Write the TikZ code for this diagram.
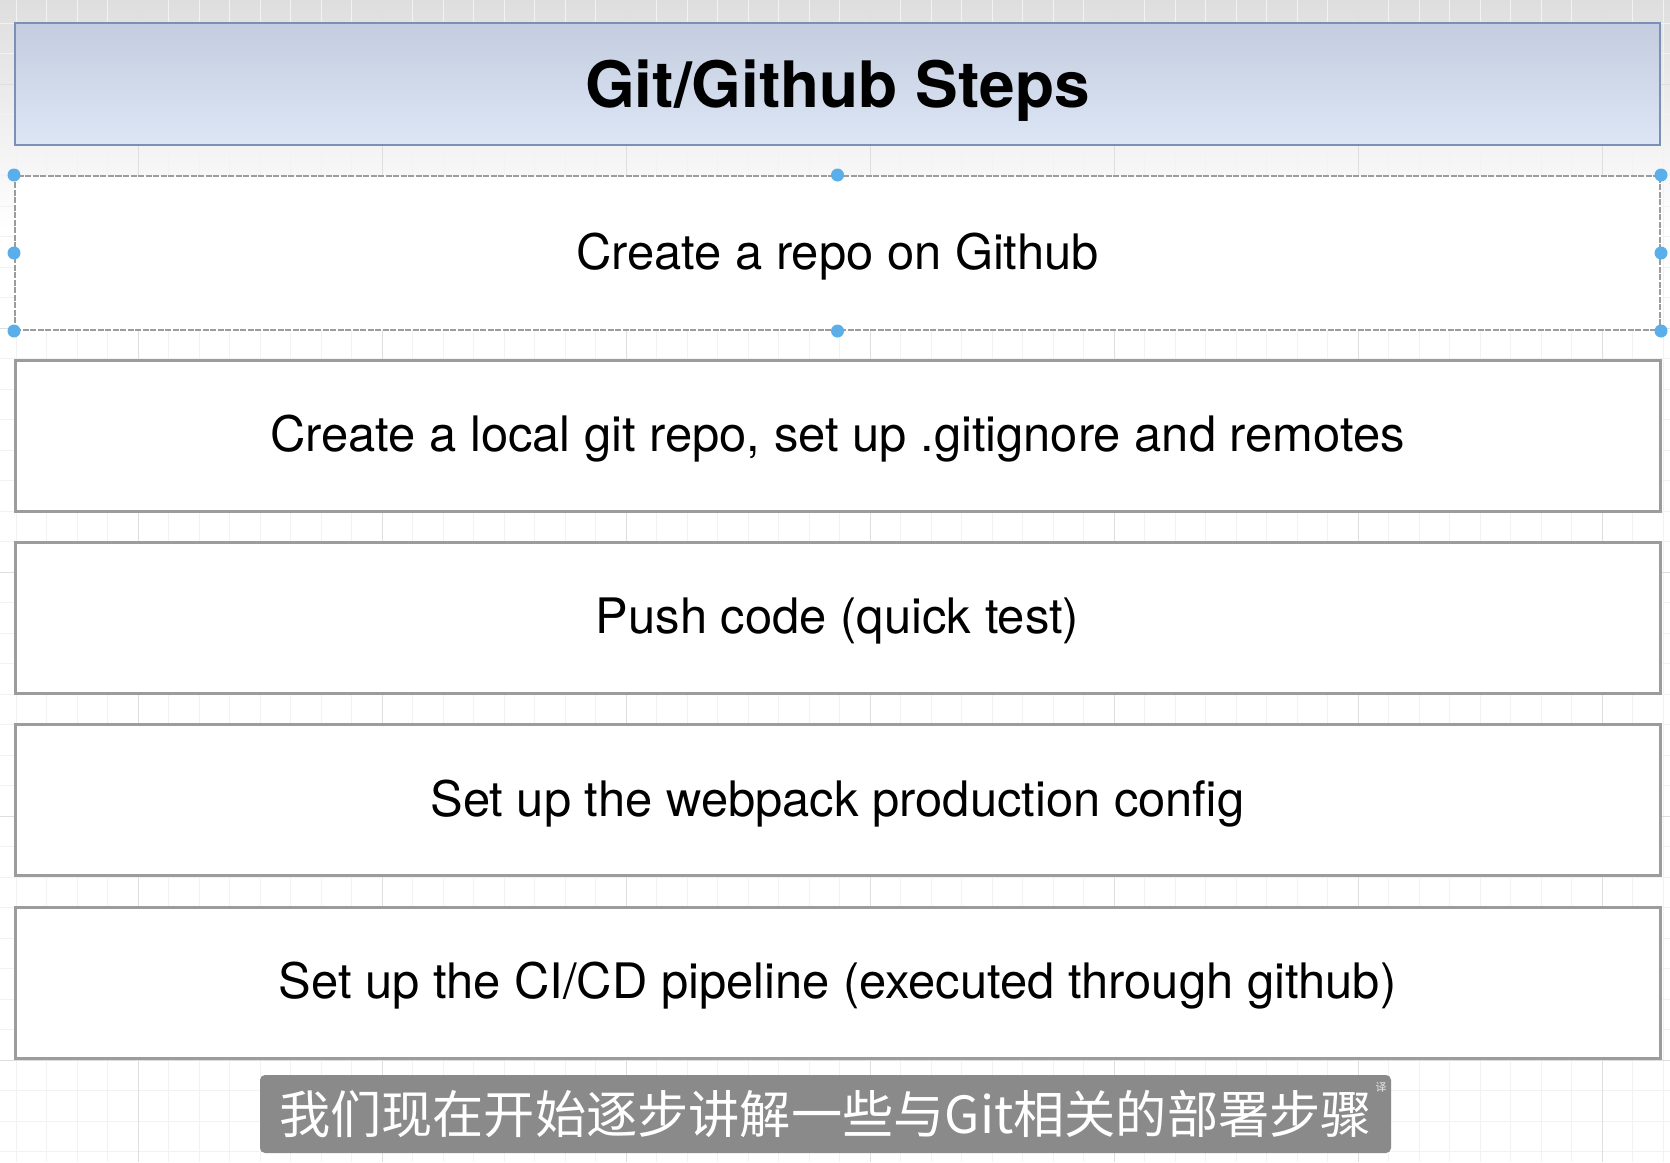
\documentclass[tikz,border=0pt]{standalone}
\usepackage{fontspec}
\setmainfont{TeX Gyre Heros}
\newfontfamily\cjk{Noto Sans CJK SC}
\definecolor{bgtop}{HTML}{DEDEDE}
\definecolor{gridc}{HTML}{F2F2F2}
\definecolor{gridmaj}{HTML}{DEDEDE}
\definecolor{titletop}{HTML}{C4CDDF}
\definecolor{titlebot}{HTML}{DCE6F5}
\definecolor{titleline}{HTML}{7C90B6}
\definecolor{boxline}{HTML}{9C9C9C}
\definecolor{handle}{HTML}{5AAFEA}
\definecolor{subfill}{HTML}{8A8A8A}
\tikzset{
  gridminor/.style={draw=gridc, line width=0.8pt},
  gridmajor/.style={draw=gridmaj, line width=1pt},
  boxtext/.style={font=\fontsize{48.9}{58}\selectfont, text=black, text height=35pt, text depth=3pt},
  stepbox/.style={boxtext, draw=boxline, line width=3pt, fill=white, minimum width=1645pt, minimum height=151pt, inner sep=0pt},
  selbox/.style={boxtext, draw=boxline, line width=2pt, dashed, dash pattern=on 6pt off 1.5pt, fill=white, minimum width=1645pt, minimum height=154pt, inner sep=0pt},
  grip/.style={circle, fill=handle, inner sep=0pt, minimum size=13pt},
  titlebox/.style={draw=titleline, line width=2.5pt, top color=titletop, bottom color=titlebot, minimum width=1645pt, minimum height=122pt, inner sep=0pt, font=\fontsize{64}{72}\selectfont\bfseries, text height=47pt, text depth=1pt},
  subbox/.style={fill=subfill, rounded corners=5pt, minimum width=1131pt, minimum height=78pt, inner sep=0pt, text=white, font=\cjk\fontsize{51.2}{60}\selectfont}
}
\begin{document}
\begin{tikzpicture}[x=1pt,y=-1pt]
\useasboundingbox (0,0) rectangle (1670,1162);
\fill[white] (0,0) rectangle (1670,1162);
\shade[top color=bgtop, bottom color=white] (0,0) rectangle (1670,230);
\foreach \i in {0,...,54} {\draw[gridminor] ({16+30.5*\i},0) -- ({16+30.5*\i},1162);}
\foreach \j in {0,...,37} {\draw[gridminor] (0,{23+30.5*\j}) -- (1670,{23+30.5*\j});}
\foreach \i in {0,...,6} {\draw[gridmajor] ({138+244*\i},0) -- ({138+244*\i},1162);}
\foreach \j in {0,...,4} {\draw[gridmajor] (0,{84+244*\j}) -- (1670,{84+244*\j});}

\node[titlebox] (title) at (837.5,84) {Git/Github Steps};

\node[selbox] (s1) at (837.5,253) {Create a repo on Github};
\node[stepbox] (s2) at (837.5,435.5) {Create a local git repo, set up .gitignore and remotes};
\node[stepbox] (s3) at (837.5,617.5) {Push code (quick test)};
\node[stepbox] (s4) at (837.5,800) {Set up the webpack production config};
\node[stepbox] (s5) at (837.5,982.5) {Set up the CI/CD pipeline (executed through github)};

\foreach \a in {north west,north,north east,east,south east,south,south west,west}
  {\node[grip] at (s1.\a) {};}

\node[subbox] (sub) at (825.5,1114) {我们现在开始逐步讲解一些与Git相关的部署步骤};
\node[text=white!80!subfill, font=\cjk\fontsize{11}{11}\selectfont, inner sep=0pt] (yi) at (1381,1087) {译};
\end{tikzpicture}
\end{document}
